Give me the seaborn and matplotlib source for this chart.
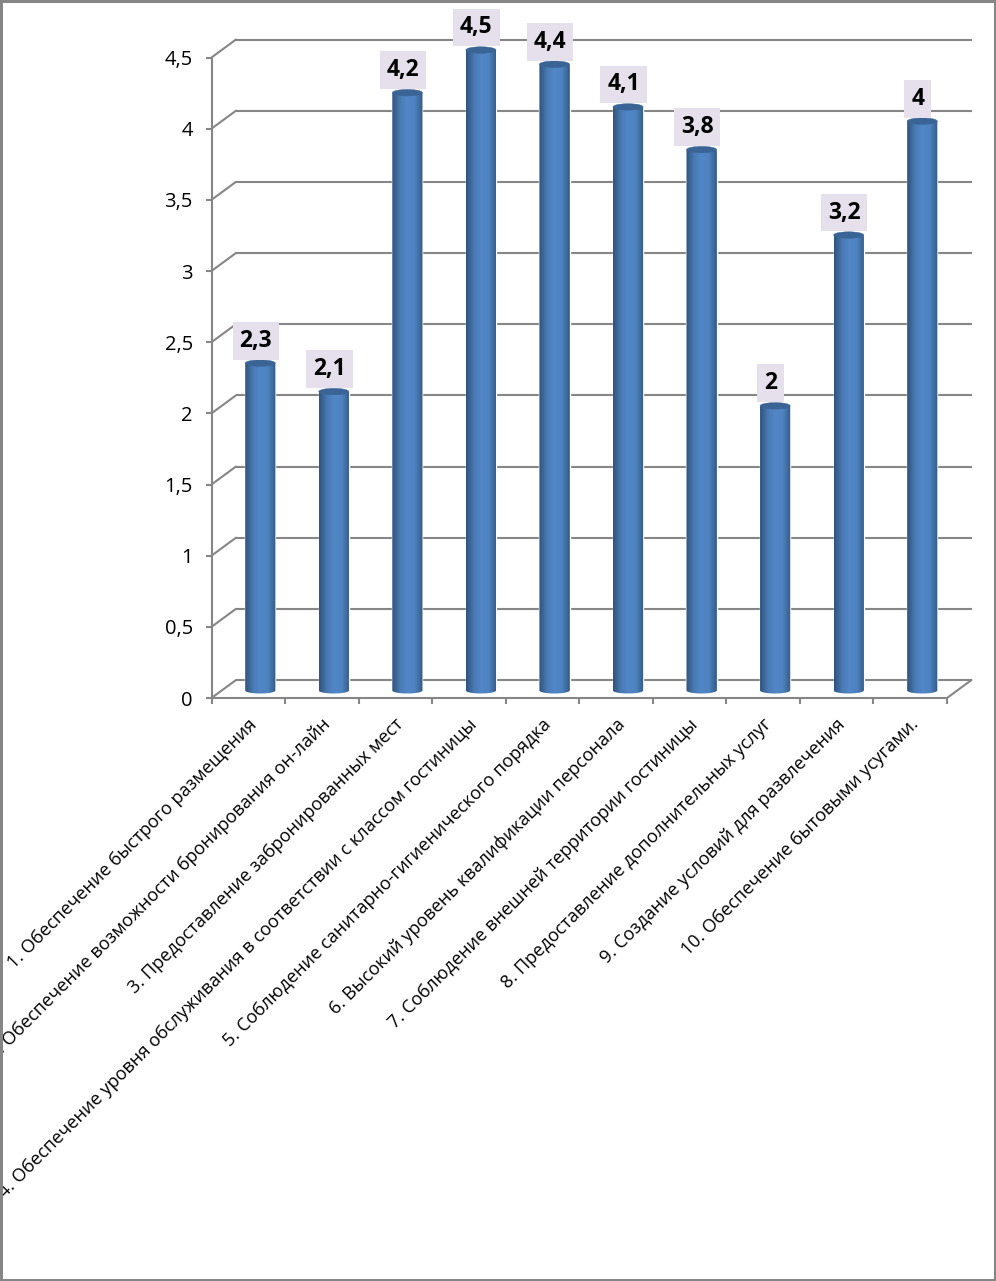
import numpy as np
import pandas as pd
import matplotlib
matplotlib.use("Agg")
import matplotlib.pyplot as plt
import seaborn as sns
from matplotlib.colors import LinearSegmentedColormap
from matplotlib.patches import Ellipse
from matplotlib.path import Path
from matplotlib.transforms import Affine2D, ScaledTranslation

categories = [
    "1. Обеспечение быстрого размещения",
    "2. Обеспечение возможности бронирования он-лайн",
    "3. Предоставление забронированных мест",
    "4. Обеспечение уровня обслуживания в соответствии с классом гостиницы",
    "5. Соблюдение санитарно-гигиенического порядка",
    "6. Высокий уровень квалификации персонала",
    "7. Соблюдение внешней территории гостиницы",
    "8. Предоставление дополнительных услуг",
    "9. Создание условий для развлечения",
    "10. Обеспечение бытовыми усугами.",
]
values = [2.3, 2.1, 4.2, 4.5, 4.4, 4.1, 3.8, 2.0, 3.2, 4.0]
y_ticks = [0, 0.5, 1, 1.5, 2, 2.5, 3, 3.5, 4, 4.5]

W, H, DPI = 996, 1281, 100
GREY = "#868686"
LABEL_BG = "#e6e0ec"
FONT = "Open Sans"


def comma(v):
    return f"{v:g}".replace(".", ",")


sns.set_theme(style="white")
plt.rcParams["font.family"] = [FONT, "DejaVu Sans"]

fig = plt.figure(figsize=(W / DPI, H / DPI), dpi=DPI, facecolor="white")
ax = fig.add_axes([211.5 / W, 1 - 698 / H, (947 - 211.5) / W, (698 - 57.5) / H])
ax.patch.set_alpha(0)

df = pd.DataFrame({"cat": categories, "val": values})
sns.barplot(data=df, x="cat", y="val", width=0.41, color="#4f81bd", ax=ax,
            saturation=1, zorder=3)
n = len(categories)
ax.set_xlim(-0.5, n - 0.5)
ax.set_ylim(0, 4.5)
ax.set_xlabel("")
ax.set_ylabel("")


def px(dx, dy):
    return ScaledTranslation(dx / DPI, dy / DPI, fig.dpi_scale_trans)


bar_tf = ax.transData + px(12, 7.5)
wall_tf = ax.transData + px(24.5, 18)


def diagonal(x, y):
    # short slanted edge from the front plane to the back wall
    ox, oy = ax.transData.transform((x, y))
    return plt.Line2D([0, 24.5], [0, 18], color=GREY, lw=1.5, zorder=1, clip_on=False,
                      transform=Affine2D().translate(ox, oy))


for t in y_ticks:
    ax.plot([-0.5, n - 0.5], [t, t], color=GREY, lw=1.5, transform=wall_tf,
            clip_on=False, zorder=1, solid_capstyle="butt")
    ax.add_line(diagonal(-0.5, t))
ax.add_line(diagonal(n - 0.5, 0))

cmap = LinearSegmentedColormap.from_list("cyl", [
    (0.00, "#2f5480"), (0.10, "#38628f"), (0.26, "#4a7ab4"), (0.50, "#5287c7"),
    (0.74, "#4e82c0"), (0.90, "#3e6a9c"), (1.00, "#33587f"),
])
grad = np.linspace(0, 1, 256)[None, :]
cap_h = 6.5 / 142.3
foot_h = 6.0 / 142.3
for bar, v in zip(list(ax.patches), values):
    x0 = bar.get_x()
    w = bar.get_width()
    xc = x0 + w / 2
    bar.set_transform(bar_tf)
    bar.set_clip_on(False)
    t = np.linspace(np.pi, 2 * np.pi, 40)
    foot = np.column_stack([xc + w / 2 * np.cos(t), foot_h / 2 * np.sin(t)])
    verts = np.vstack([foot, [[x0 + w, v], [x0, v], foot[0]]])
    outline = Path(verts, closed=False)
    im = ax.imshow(grad, cmap=cmap, extent=(x0, x0 + w, -foot_h, v), aspect="auto",
                   transform=bar_tf, zorder=3.2, interpolation="bilinear")
    im.set_clip_path(outline, transform=bar_tf)
    im.set_clip_box(fig.bbox)
    ax.add_patch(Ellipse((xc, v), w, cap_h, facecolor="#3a6495", edgecolor="#3a6495", lw=0.3,
                         transform=bar_tf, zorder=3.4, clip_on=False))
    ax.annotate(comma(v), xy=(xc, v), xycoords=bar_tf,
                xytext=(-4.5 * 72 / DPI, 22.5 * 72 / DPI),
                textcoords="offset points", ha="center", va="center",
                fontsize=16.5, fontweight="bold", color="black", zorder=5,
                bbox=dict(boxstyle="square,pad=0.3", facecolor=LABEL_BG, edgecolor="none"),
                annotation_clip=False)
ax.set_xlim(-0.5, n - 0.5)
ax.set_ylim(0, 4.5)

for side in ("top", "right"):
    ax.spines[side].set_visible(False)
for side in ("left", "bottom"):
    ax.spines[side].set_color(GREY)
    ax.spines[side].set_linewidth(1.5)
    ax.spines[side].set_zorder(2)
ax.set_yticks(y_ticks)
ax.set_yticklabels([comma(t) for t in y_ticks], fontsize=14.5, color="black")
ax.tick_params(axis="y", left=True, length=4.5, width=1.5, color=GREY, pad=9)
ax.set_xticks(np.arange(n + 1) - 0.5)
ax.set_xticklabels(categories + [""], rotation=45, ha="right", va="top",
                   rotation_mode="anchor", fontsize=13.1, color="black")
ax.tick_params(axis="x", bottom=True, length=4.5, width=1.5, color=GREY, pad=8)
for lab in ax.get_xticklabels():
    lab.set_transform(lab.get_transform() + px(36, 0))

fig.add_artist(plt.Rectangle((0, 0), 1, 1, transform=fig.transFigure, fill=False,
                             edgecolor=GREY, lw=3.6, zorder=10))
fig.savefig("out.png", dpi=DPI, facecolor="white")
